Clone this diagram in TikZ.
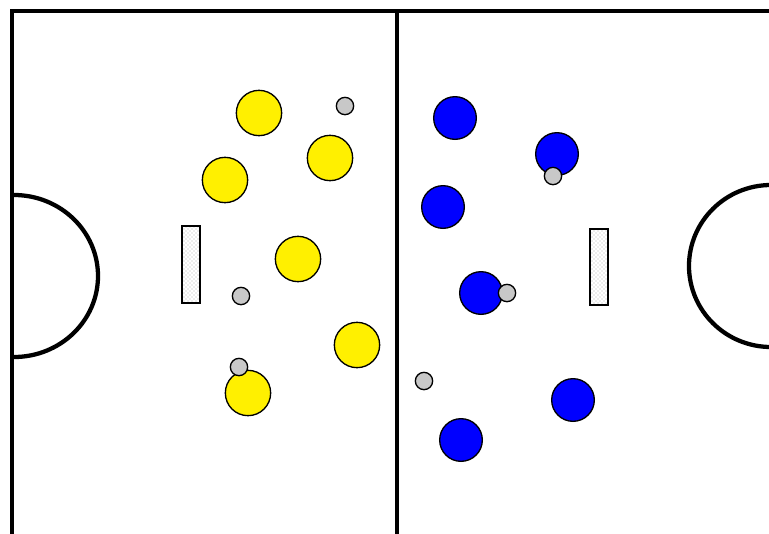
\documentclass[tikz,border=0pt]{standalone}
\usetikzlibrary{patterns}
\tikzset{
  yplayer/.style={circle,draw=black,line width=1pt,fill={rgb,255:red,255;green,240;blue,0},minimum size=34,inner sep=0pt},
  bplayer/.style={circle,draw=black,line width=1pt,fill={rgb,255:red,0;green,0;blue,255},minimum size=32,inner sep=0pt},
  ball/.style={circle,draw=black,line width=1pt,fill={rgb,255:red,200;green,200;blue,200},minimum size=13,inner sep=0pt},
  goalbox/.style={draw=black,line width=1.5pt,pattern=crosshatch dots,pattern color=gray!60}
}
\begin{document}
\begin{tikzpicture}[x=0.75pt,y=0.75pt,yscale=-1,xscale=1]
        \useasboundingbox (0,0) rectangle (769,533);
        % field
        \draw [line width=3.2pt]   (12,545) -- (12,11) -- (780,11) ;
        \draw [line width=3.2pt]   (397,11) -- (397,545) ;
        \draw [line width=3.2pt]   (14,195) arc (-90:90:84 and 81) ;
        \draw [line width=3.2pt]   (771,185) arc (270:90:82 and 81) ;
        % goals
        \draw [goalbox]   (182,226) rectangle (200,303) ;
        \draw [goalbox]   (590,229) rectangle (608,305) ;
        % yellow team
        \node [yplayer] (y1) at (259,113) {};
        \node [yplayer] (y2) at (330,158) {};
        \node [yplayer] (y3) at (225,180) {};
        \node [yplayer] (y4) at (298,259) {};
        \node [yplayer] (y5) at (357,345) {};
        \node [yplayer] (y6) at (248,393) {};
        % blue team
        \node [bplayer] (b1) at (455,118) {};
        \node [bplayer] (b2) at (557,154) {};
        \node [bplayer] (b3) at (443,207) {};
        \node [bplayer] (b4) at (481,293) {};
        \node [bplayer] (b5) at (573,400) {};
        \node [bplayer] (b6) at (461,440) {};
        % balls
        \node [ball] (k1) at (345,106) {};
        \node [ball] (k2) at (553,176) {};
        \node [ball] (k3) at (241,296) {};
        \node [ball] (k4) at (507,293) {};
        \node [ball] (k5) at (239,367) {};
        \node [ball] (k6) at (424,381) {};
\end{tikzpicture}
\end{document}
